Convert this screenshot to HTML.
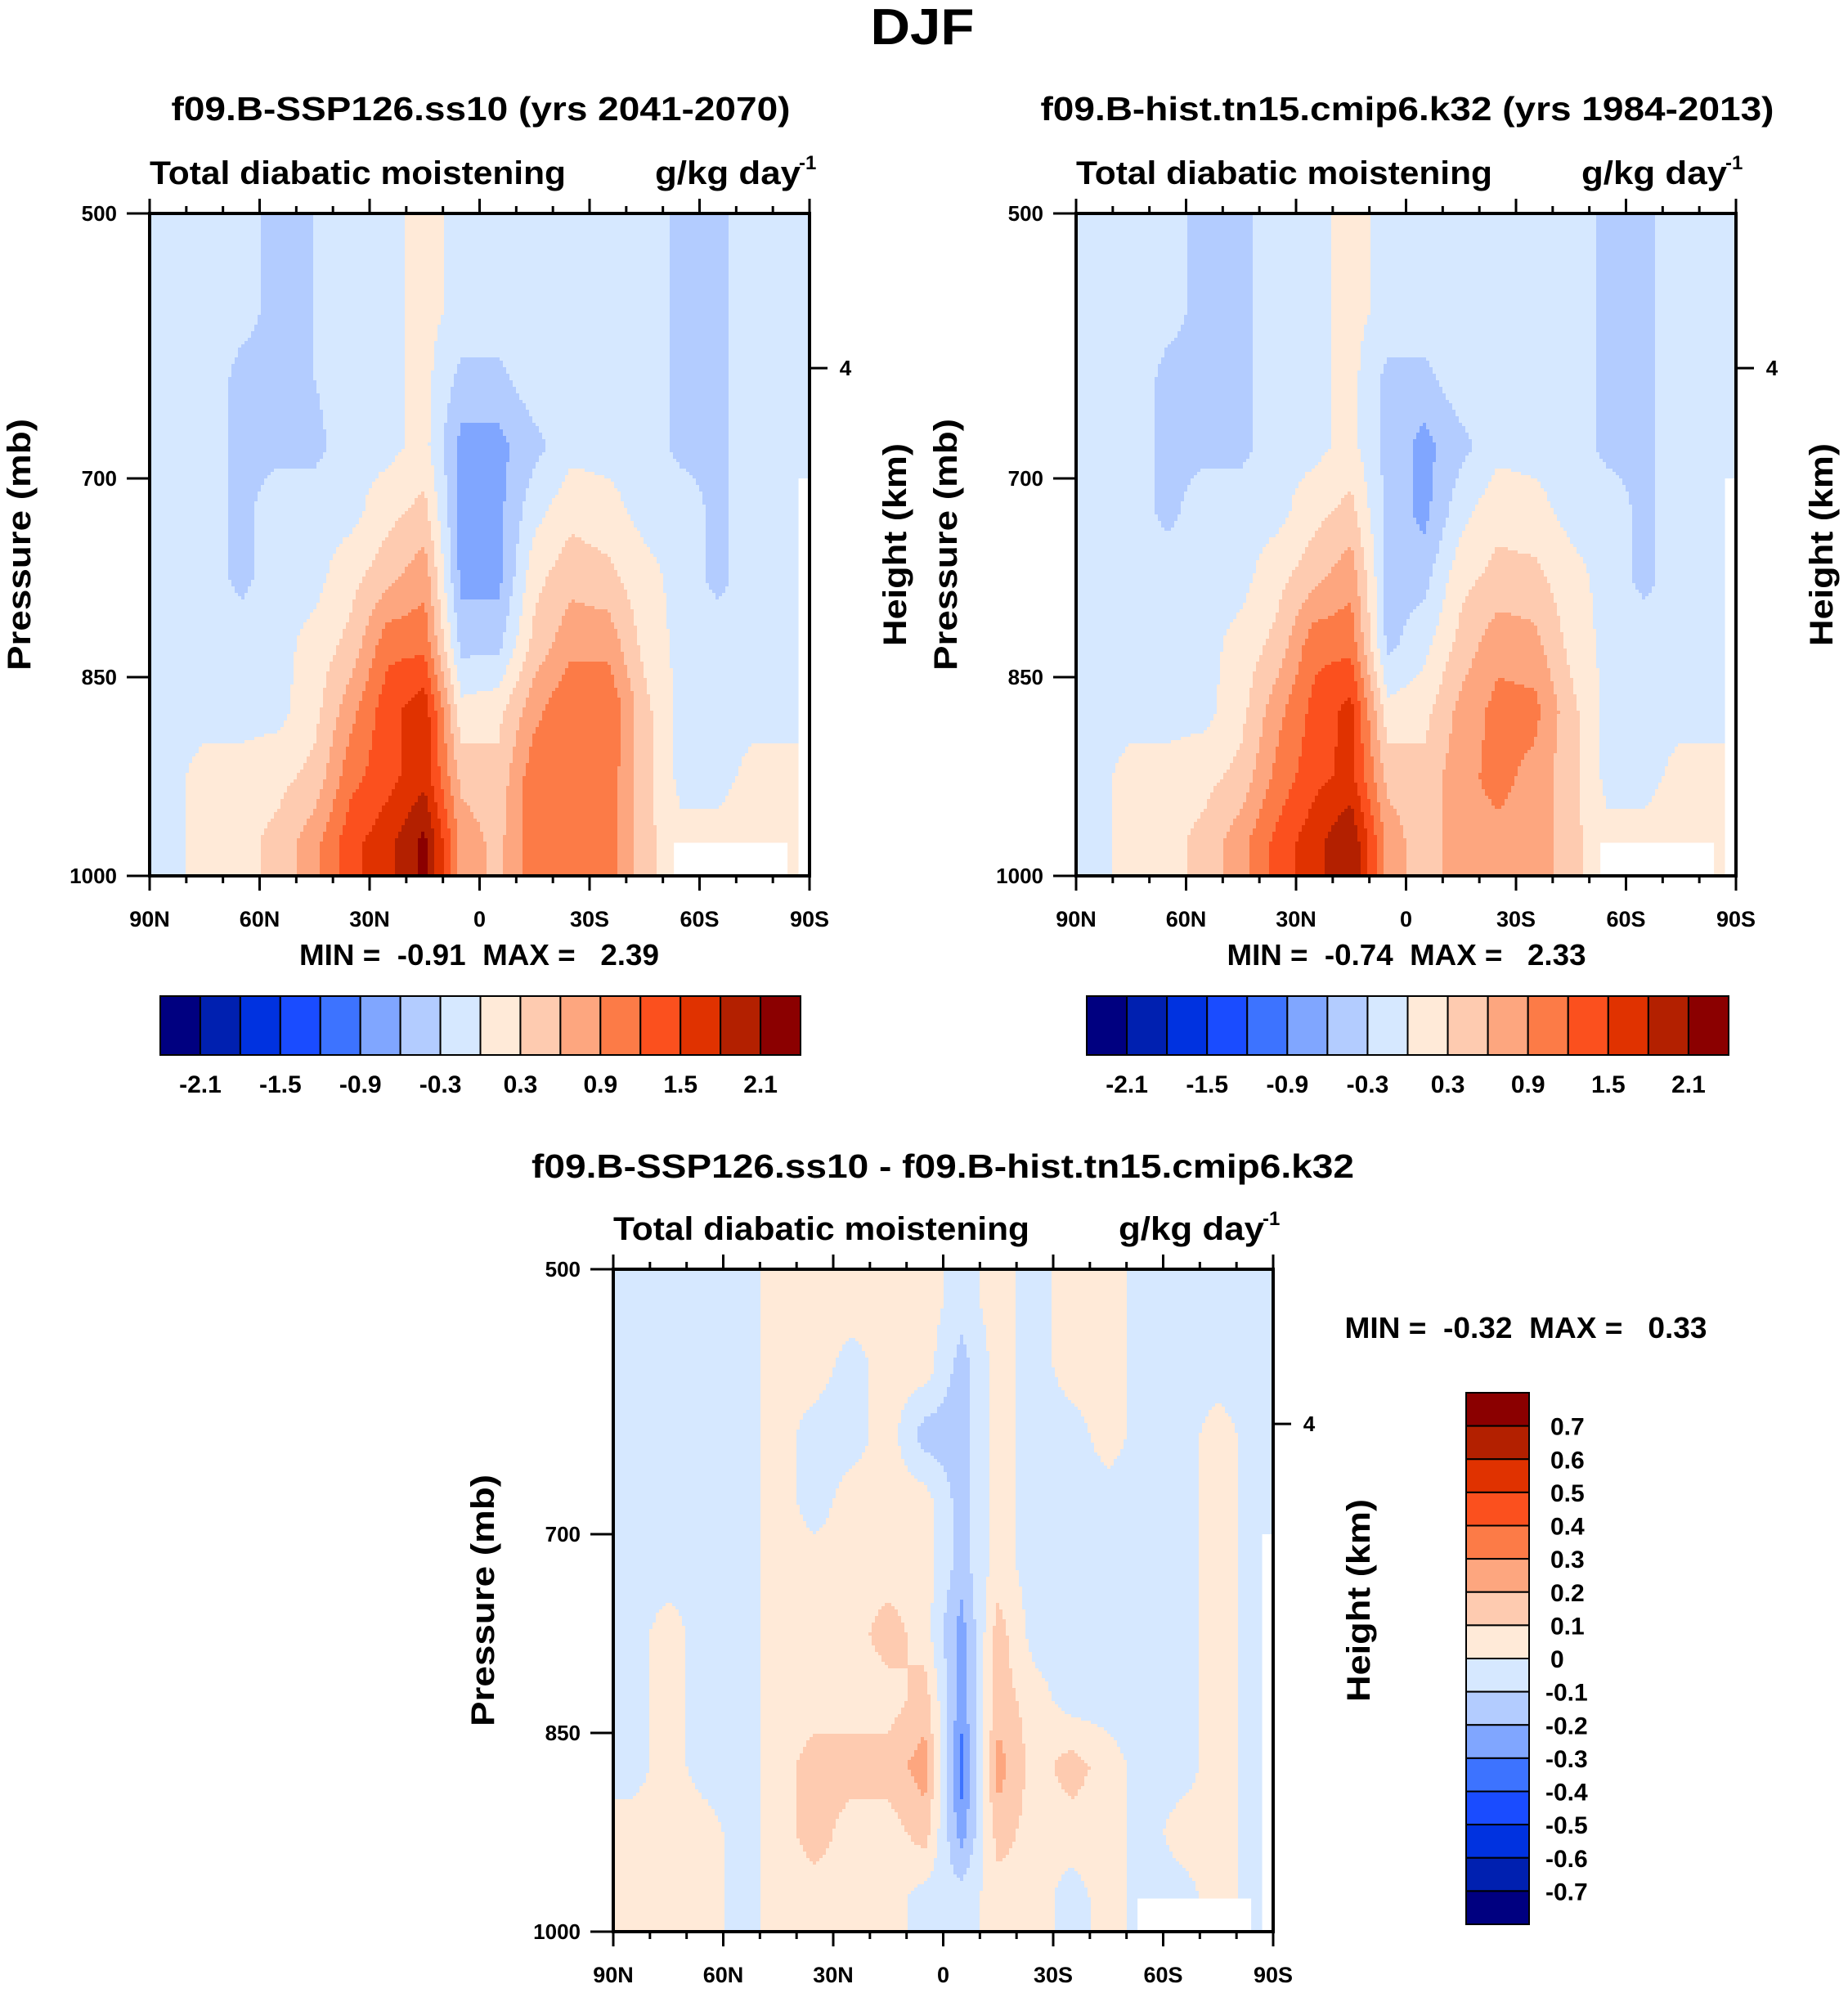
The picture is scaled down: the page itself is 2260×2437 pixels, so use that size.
<!DOCTYPE html>
<html><head><meta charset="utf-8">
<style>
html,body{margin:0;padding:0;background:#fff;}
svg{display:block;font-family:"Liberation Sans",Arial,sans-serif;font-weight:bold;}
.pre{white-space:pre;}
</style></head>
<body>
<svg id="fig" width="2260" height="2437" viewBox="0 0 2260 2437" xmlns="http://www.w3.org/2000/svg">
<text x="1128" y="54" font-size="62" text-anchor="middle" textLength="127" lengthAdjust="spacingAndGlyphs">DJF</text>
</svg>
<script>
// ---------- data ----------
const lats = [85,75,65,55,45,35,25,15,5,-5,-15,-25,-35,-45,-55,-65,-75,-85];
const plevs = [525,575,625,675,725,775,825,875,925,975];
const ssp126 = [
[-0.1,-0.1,-0.2,-0.4,-0.3,-0.1,-0.1,0.1,-0.1,-0.1,-0.1,-0.1,-0.1,-0.1,-0.4,-0.4,-0.1,-0.1],
[-0.1,-0.1,-0.2,-0.4,-0.3,-0.1,-0.1,0.1,-0.1,-0.1,-0.1,-0.1,-0.1,-0.1,-0.4,-0.4,-0.1,-0.1],
[-0.1,-0.1,-0.4,-0.4,-0.3,-0.1,-0.1,0.1,-0.4,-0.4,-0.1,-0.1,-0.1,-0.1,-0.4,-0.4,-0.1,-0.1],
[-0.1,-0.1,-0.4,-0.4,-0.4,-0.1,-0.1,0.1,-0.7,-0.7,-0.4,-0.1,-0.1,-0.1,-0.4,-0.4,-0.1,-0.1],
[-0.1,-0.1,-0.4,-0.1,-0.1,-0.1,0.2,0.4,-0.7,-0.7,-0.1,0.2,0.1,-0.1,-0.1,-0.4,-0.1,-0.1],
[-0.1,-0.1,-0.4,-0.1,-0.1,0.2,0.5,0.8,-0.7,-0.7,0.2,0.5,0.4,0.1,-0.1,-0.4,-0.1,-0.1],
[-0.1,-0.1,-0.1,-0.1,0.1,0.4,1.1,1.1,-0.4,-0.4,0.4,0.8,0.8,0.2,-0.1,-0.1,-0.1,-0.1],
[-0.1,-0.1,-0.1,-0.1,0.2,0.8,1.4,1.7,0.1,0.2,0.8,1.2,1.2,0.4,-0.1,-0.1,-0.1,-0.1],
[-0.1,0.1,0.1,0.2,0.4,1.1,1.4,1.7,0.5,0.4,1.1,1.1,1.1,0.4,-0.1,-0.1,0.1,0.1],
[-0.1,0.1,0.2,0.4,0.8,1.4,1.7,2.2,0.8,0.5,1.1,1.1,1.1,0.4,0.1,0.1,0.2,0.1]];
const hist = [
[-0.1,-0.1,-0.2,-0.4,-0.4,-0.1,-0.1,0.1,-0.1,-0.1,-0.1,-0.1,-0.1,-0.1,-0.4,-0.4,-0.1,-0.1],
[-0.1,-0.1,-0.2,-0.4,-0.4,-0.1,-0.1,0.1,-0.1,-0.1,-0.1,-0.1,-0.1,-0.1,-0.4,-0.4,-0.1,-0.1],
[-0.1,-0.1,-0.4,-0.4,-0.4,-0.1,-0.1,0.1,-0.4,-0.4,-0.1,-0.1,-0.1,-0.1,-0.4,-0.4,-0.1,-0.1],
[-0.1,-0.1,-0.4,-0.4,-0.4,-0.1,-0.1,0.1,-0.4,-0.7,-0.4,-0.1,-0.1,-0.1,-0.4,-0.4,-0.1,-0.1],
[-0.1,-0.1,-0.4,-0.1,-0.1,-0.1,0.2,0.4,-0.4,-0.7,-0.1,0.2,0.1,-0.1,-0.1,-0.4,-0.1,-0.1],
[-0.1,-0.1,-0.1,-0.1,-0.1,0.2,0.5,0.8,-0.4,-0.4,0.2,0.4,0.4,0.1,-0.1,-0.4,-0.1,-0.1],
[-0.1,-0.1,-0.1,-0.1,0.1,0.4,1.1,1.1,-0.4,-0.1,0.4,0.8,0.7,0.2,-0.1,-0.1,-0.1,-0.1],
[-0.1,-0.1,-0.1,-0.1,0.2,0.8,1.3,1.6,0.1,0.2,0.7,1.0,1.0,0.4,-0.1,-0.1,-0.1,-0.1],
[-0.1,0.1,0.1,0.2,0.4,1.0,1.4,1.6,0.5,0.4,0.8,1.0,0.8,0.4,-0.1,-0.1,0.1,0.1],
[-0.1,0.1,0.2,0.4,0.8,1.3,1.7,2.1,0.8,0.4,0.8,0.8,0.8,0.4,0.1,0.1,0.2,0.1]];
const diff = [
[-0.05,-0.05,-0.05,-0.05,0.05,0.05,0.05,0.05,0.05,-0.05,0.05,-0.05,0.05,0.05,-0.05,-0.05,-0.05,-0.05],
[-0.05,-0.05,-0.05,-0.05,0.05,0.05,-0.05,0.05,0.05,-0.15,0.05,-0.05,0.05,0.05,-0.05,-0.05,-0.05,-0.05],
[-0.05,-0.05,-0.05,-0.05,0.05,-0.05,-0.05,0.05,-0.15,-0.15,0.05,-0.05,-0.05,0.05,-0.05,-0.05,0.05,-0.05],
[-0.05,-0.05,-0.05,-0.05,0.05,-0.05,0.05,0.05,0.05,-0.15,0.05,-0.05,-0.05,-0.05,-0.05,-0.05,0.05,-0.05],
[-0.05,-0.05,-0.05,-0.05,0.05,0.05,0.05,0.05,0.05,-0.15,0.05,-0.05,-0.05,-0.05,-0.05,-0.05,0.05,-0.05],
[-0.05,0.05,-0.05,-0.05,0.05,0.05,0.05,0.15,0.05,-0.25,0.15,-0.05,-0.05,-0.05,-0.05,-0.05,0.05,-0.05],
[-0.05,0.05,-0.05,-0.05,0.05,0.05,0.05,0.05,0.15,-0.25,0.15,0.05,-0.05,-0.05,-0.05,-0.05,0.05,-0.05],
[-0.05,0.05,-0.05,-0.05,0.05,0.15,0.15,0.15,0.25,-0.35,0.25,0.05,0.15,0.05,-0.05,-0.05,0.05,-0.05],
[0.05,0.05,0.05,-0.05,0.05,0.15,0.05,0.05,0.15,-0.25,0.15,0.05,0.05,0.05,-0.05,0.05,0.05,-0.05],
[0.05,0.05,0.05,-0.05,0.05,0.05,0.05,0.05,-0.05,-0.05,0.05,0.05,-0.05,0.05,-0.05,-0.05,0.05,-0.05]];
const latTicks = [90,60,30,0,-30,-60,-90];
const latTickLabels = ["90N","60N","30N","0","30S","60S","90S"];
const presTicks = [500,700,850,1000];
const cbLabels1 = ["-2.1","-1.5","-0.9","-0.3","0.3","0.9","1.5","2.1"];
const cbLabels3 = ["0.7","0.6","0.5","0.4","0.3","0.2","0.1","0","-0.1","-0.2","-0.3","-0.4","-0.5","-0.6","-0.7"];
const palette = ["#000080","#0020b0","#0032e0","#1a4cff","#3d73ff","#80a6ff","#b3ccff","#d6e8ff","#ffead8","#fecbb0","#fda67f","#fc7b47","#fb501e","#e03200","#b32000","#8b0000"];
// missing-data rectangles [lat1, lat2, p1, p2]
const missing = [[-53,-84,975,1000],[-87,-90,700,1000]];

const NS="http://www.w3.org/2000/svg";
const svg=document.getElementById('fig');
function mk(tag,attrs,parent){const e=document.createElementNS(NS,tag);for(const k in attrs)e.setAttribute(k,attrs[k]);(parent||svg).appendChild(e);return e;}
function txt(s,attrs,parent){const e=mk('text',attrs,parent);e.textContent=s;return e;}

function sample(data,lat,p){
  let fi=(lats[0]-lat)/10, fj=(p-plevs[0])/50;
  fi=Math.max(0,Math.min(lats.length-1,fi)); fj=Math.max(0,Math.min(plevs.length-1,fj));
  const i0=Math.min(lats.length-2,Math.floor(fi)), j0=Math.min(plevs.length-2,Math.floor(fj));
  const a=fi-i0,b=fj-j0;
  return data[j0][i0]*(1-a)*(1-b)+data[j0][i0+1]*a*(1-b)+data[j0+1][i0]*(1-a)*b+data[j0+1][i0+1]*a*b;
}

function panel(cfg){
  const g=mk('g',{});
  
  
  const X=lat=>cfg.x0+(90-lat)/180*(cfg.x1-cfg.x0);
  const Y=p=>cfg.y0+(p-500)/500*(cfg.y1-cfg.y0);
  const lo=cfg.lo, step=cfg.step;
  const cidx=v=>Math.max(0,Math.min(15,Math.floor((v-lo)/step+1e-9)));
  const W=cfg.x1-cfg.x0, H=cfg.y1-cfg.y0, S=4;
  function flush(x0,x1,py,c){
    const r=mk('rect',{x:cfg.x0+x0,y:cfg.y0+py,width:x1-x0+0.5,height:Math.min(S,H-py)+0.5,fill:palette[c]},g);
    
    
  }
  for(let py=0;py<H;py+=S){
    const p=500+(py+S/2)/H*500;
    let runStart=0, runC=-1;
    for(let px=0;px<W;px+=S){
      const lat=90-(px+S/2)/W*180;
      const c=cidx(sample(cfg.data,lat,p));
      if(c!==runC){
        if(runC>=0) flush(runStart,px,py,runC);
        runStart=px;runC=c;
      }
    }
    flush(runStart,W,py,runC);
  }
  missing.forEach(m=>{
    const r=mk('rect',{x:X(m[0]),y:Y(m[2]),width:X(m[1])-X(m[0]),height:Y(m[3])-Y(m[2]),fill:'#fff'},g);
    
    
  });
  const fr=mk('rect',{x:cfg.x0,y:cfg.y0,width:W,height:H,fill:'none',stroke:'#000','stroke-width':4},g);
  
  
  for(let l=90;l>=-90;l-=10){
    const major=l%30===0, len=major?18:9;
    mk('line',{x1:X(l),x2:X(l),y1:cfg.y1,y2:cfg.y1+len,stroke:'#000','stroke-width':3},g);
    mk('line',{x1:X(l),x2:X(l),y1:cfg.y0,y2:cfg.y0-len,stroke:'#000','stroke-width':3},g);
  }
  latTicks.forEach((l,k)=>{
    const t=txt(latTickLabels[k],{x:X(l),y:cfg.y1+62,'font-size':27,'text-anchor':'middle'},g);
    
    
  });
  presTicks.forEach(p=>{
    mk('line',{x1:cfg.x0-28,x2:cfg.x0,y1:Y(p),y2:Y(p),stroke:'#000','stroke-width':3},g);
    const t=txt(String(p),{x:cfg.x0-40,y:Y(p)+9,'font-size':26,'text-anchor':'end'},g);
    
    
  });
  const hy=cfg.y0+H*0.2335;
  mk('line',{x1:cfg.x1,x2:cfg.x1+22,y1:hy,y2:hy,stroke:'#000','stroke-width':3},g);
  const h4=txt('4',{x:cfg.x1+44,y:hy+9,'font-size':26,'text-anchor':'middle'},g);
  
  
  const cy=(cfg.y0+cfg.y1)/2;
  const pt=txt('Pressure (mb)',{x:0,y:0,'font-size':40,'text-anchor':'middle',transform:`translate(${cfg.x0-146},${cy}) rotate(-90)`,textLength:308,lengthAdjust:'spacingAndGlyphs'},g);
  
  
  const ht=txt('Height (km)',{x:0,y:0,'font-size':40,'text-anchor':'middle',transform:`translate(${cfg.x1+118},${cy}) rotate(-90)`,textLength:248,lengthAdjust:'spacingAndGlyphs'},g);
  
  
  const lt=txt('Total diabatic moistening',{x:cfg.x0,y:cfg.y0-36,'font-size':40,textLength:509,lengthAdjust:'spacingAndGlyphs'},g);
  
  
  const ut=txt('g/kg day',{x:cfg.x1-189,y:cfg.y0-36,'font-size':40,textLength:178,lengthAdjust:'spacingAndGlyphs'},g);
  
  
  const us=txt('-1',{x:cfg.x1-13,y:cfg.y0-54,'font-size':24},g);
  
  
  const tt=txt(cfg.title,{x:cfg.tx,y:cfg.ty,'font-size':41,'text-anchor':'middle',textLength:cfg.tw,lengthAdjust:'spacingAndGlyphs'});
  
  
  const mm=txt(cfg.minmax,{x:cfg.mx,y:cfg.my,'font-size':36,'text-anchor':'middle',textLength:cfg.mw,lengthAdjust:'spacingAndGlyphs','class':'pre'});
  
  
}

function hbar(x0,x1,y0,y1,name){
  const g=mk('g',{});
  
  
  const w=(x1-x0)/16;
  palette.forEach((c,i)=>{
    const r=mk('rect',{x:x0+i*w,y:y0,width:w,height:y1-y0,fill:c,stroke:'#000','stroke-width':2},g);
    
    
  });
  cbLabels1.forEach((s,k)=>{
    const t=txt(s,{x:x0+w*(1+2*k),y:y1+46,'font-size':30,'text-anchor':'middle'},g);
    
    
  });
}
function vbar(x0,x1,y0,y1,name){
  const g=mk('g',{});
  
  
  const h=(y1-y0)/16;
  palette.slice().reverse().forEach((c,i)=>{
    const r=mk('rect',{x:x0,y:y0+i*h,width:x1-x0,height:h,fill:c,stroke:'#000','stroke-width':2},g);
    
    
  });
  cbLabels3.forEach((s,k)=>{
    const t=txt(s,{x:x1+20+(s[0]==='-'?0:6),y:y0+h*(k+1)+11,'font-size':30},g);
    
    
  });
}

panel({name:'panel-ssp126',data:ssp126,x0:183,x1:990,y0:261,y1:1071,lo:-2.4,step:0.3,
  title:'f09.B-SSP126.ss10 (yrs 2041-2070)',tx:588,ty:147,tw:757,minmax:'MIN =  -0.91  MAX =   2.39',mx:586,my:1180,mw:440});
panel({name:'panel-hist',data:hist,x0:1316,x1:2123,y0:261,y1:1071,lo:-2.4,step:0.3,
  title:'f09.B-hist.tn15.cmip6.k32 (yrs 1984-2013)',tx:1721,ty:147,tw:897,minmax:'MIN =  -0.74  MAX =   2.33',mx:1720,my:1180,mw:439});
panel({name:'panel-difference',data:diff,x0:750,x1:1557,y0:1552,y1:2362,lo:-0.8,step:0.1,
  title:'f09.B-SSP126.ss10 - f09.B-hist.tn15.cmip6.k32',tx:1153,ty:1440,tw:1006,minmax:'MIN =  -0.32  MAX =   0.33',mx:1866,my:1636,mw:443});
hbar(196,979,1218,1290,'colorbar-ssp126');
hbar(1329,2114,1218,1290,'colorbar-hist');
vbar(1793,1870,1703,2353,'colorbar-difference');
</script>
</body></html>
